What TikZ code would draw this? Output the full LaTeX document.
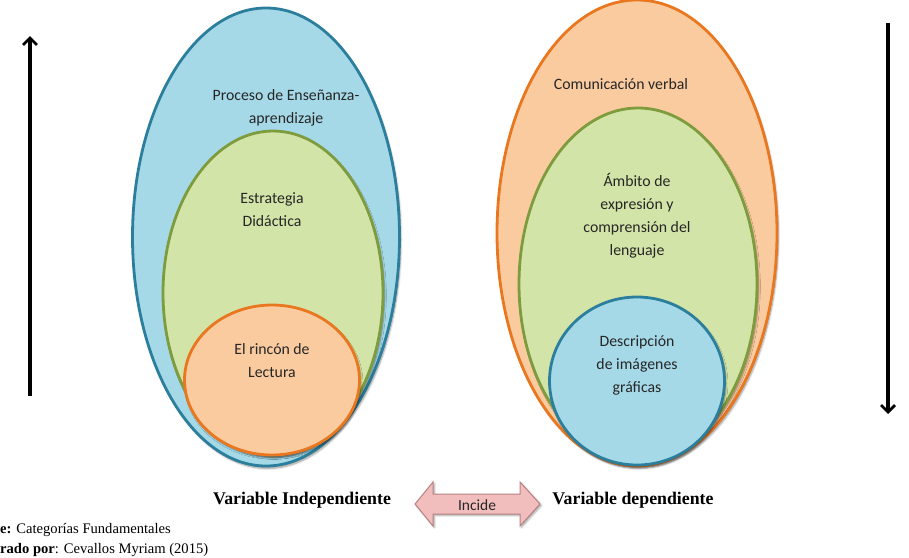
\documentclass[tikz,border=0pt]{standalone}
\usepackage{fontspec}
\setmainfont{Liberation Serif}
\newfontfamily\calfont{Carlito}
\usetikzlibrary{shapes.geometric,shadows.blur,arrows.meta}
\definecolor{bfill}{HTML}{A6D9E8}
\definecolor{bdraw}{HTML}{2C7F9C}
\definecolor{gfill}{HTML}{D3E4A8}
\definecolor{gdraw}{HTML}{7E9C3E}
\definecolor{ofill}{HTML}{FBCBA0}
\definecolor{odraw}{HTML}{E9771F}
\definecolor{pfill}{HTML}{F2BDBD}
\definecolor{pdraw}{HTML}{B98282}
\begin{document}
\begin{tikzpicture}[x=1pt,y=-1pt,
  blob/.style={ellipse,inner sep=0pt,line width=2.8pt,blur shadow={shadow blur steps=6,shadow xshift=1.5pt,shadow yshift=-2.5pt,shadow opacity=40}},
  bblob/.style={blob,draw=bdraw,fill=bfill},
  gblob/.style={blob,draw=gdraw,fill=gfill},
  oblob/.style={blob,draw=odraw,fill=ofill},
  lab/.style={font=\calfont\fontsize{15.8}{23}\selectfont,text=black!85,align=center,inner sep=0pt},
  varlab/.style={font=\bfseries\fontsize{17.8}{20}\selectfont,inner sep=0pt},
  note/.style={font=\fontsize{14.6}{17}\selectfont,inner sep=0pt,anchor=base west},
  bigarrow/.style={line width=3.2pt,-{Straight Barb[length=7pt,width=14pt,line width=2.8pt]}}
]
\useasboundingbox (0,0) rectangle (909,557);
% left group
\node[bblob,minimum width=267pt,minimum height=458pt] (L1) at (266,237) {};
\node[gblob,minimum width=220pt,minimum height=324pt] (L2) at (273,293) {};
\node[oblob,minimum width=175pt,minimum height=150pt] (L3) at (272,380) {};
\node[lab] (t1) at (286,108) {Proceso de Enseñanza-\\aprendizaje};
\node[lab] (t2) at (272,210) {Estrategia\\Didáctica};
\node[lab] (t3) at (272,361) {El rincón de\\Lectura};
% right group
\node[oblob,minimum width=280pt,minimum height=466pt] (R1) at (637,233) {};
\node[gblob,minimum width=238pt,minimum height=352pt] (R2) at (638,284) {};
\node[bblob,minimum width=175pt,minimum height=168pt] (R3) at (637,381) {};
\node[lab] (u1) at (621,84) {Comunicación verbal};
\node[lab] (u2) at (637,216) {Ámbito de\\expresión y\\comprensión del\\lenguaje};
\node[lab] (u3) at (637,365) {Descripción\\de imágenes\\gráficas};
% side arrows
\coordinate (la1) at (30,396);
\coordinate (la2) at (30,36);
\coordinate (ra1) at (888,23);
\coordinate (ra2) at (888,414);
\draw[bigarrow] (la1) -- (la2);
\draw[bigarrow] (ra1) -- (ra2);
% bottom labels
\node[varlab] (vi) at (302,500) {Variable Independiente};
\node[varlab] (vd) at (633,500) {Variable dependiente};
\draw[fill=pfill,draw=pdraw,line width=1pt,blur shadow={shadow xshift=1.5pt,shadow yshift=-1.5pt,shadow opacity=35}]
  (415,504) -- (433,482) -- (433,494) -- (520,494) -- (520,482) -- (540,504)
  -- (520,526) -- (520,514) -- (433,514) -- (433,526) -- cycle;
\node[lab,font=\calfont\fontsize{15.5}{17}\selectfont] (inc) at (477,505) {Incide};
\node[note] (n1) at (0,533) {\textbf{e:} Categorías Fundamentales};
\node[note] (n2) at (0,553) {\textbf{rado por}: Cevallos Myriam (2015)};
\end{tikzpicture}
\end{document}
